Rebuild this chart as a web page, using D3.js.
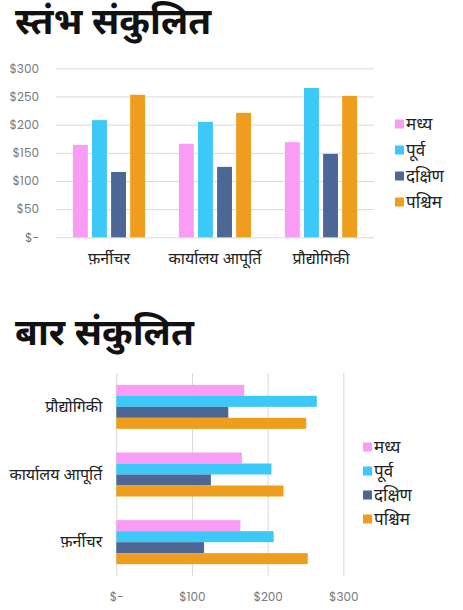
<!DOCTYPE html>
<html><head><meta charset="utf-8">
<script src="https://cdn.jsdelivr.net/npm/d3@7"></script>
<style>
body{margin:0;background:#fff;}
svg{display:block;}
</style></head>
<body>
<svg id="c" width="463" height="610"></svg>
<script>
const categories = ["फ़र्नीचर", "कार्यालय आपूर्ति", "प्रौद्योगिकी"];
const seriesNames = ["मध्य", "पूर्व", "दक्षिण", "पश्चिम"];
const center = [164, 166, 169];
const east = [208, 205, 265];
const south = [116, 125, 148];
const west = [253, 221, 251];
const colTicks = [0, 50, 100, 150, 200, 250, 300];
const barTicks = [0, 100, 200, 300];
const titles = ["स्तंभ संकुलित", "बार संकुलित"];
const colors = ["#f99cf3", "#3cc8f8", "#4c6794", "#ee9d1c"];

const values = [center, east, south, west];
const rows = categories.map((c, i) => ({cat: c, vals: values.map(v => v[i])}));
const fmt = d => d === 0 ? "$-" : "$" + d;
const deva = "'Noto Sans Devanagari','Noto Sans','Lohit Devanagari',sans-serif";
const tickFont = "Poppins, 'Open Sans', 'Noto Sans', sans-serif";

const svg = d3.select("#c");

// Titles
svg.append("text").attr("x", 15).attr("y", 34).text(titles[0])
  .attr("font-family", deva).attr("font-weight", 700).attr("font-size", 37).attr("fill", "#111");
svg.append("text").attr("x", 15).attr("y", 345).text(titles[1])
  .attr("font-family", deva).attr("font-weight", 700).attr("font-size", 37).attr("fill", "#111");

// ---------- Column chart ----------
{
  const left = 56, right = 374, top = 68.3, bottom = 237.3;
  const y = d3.scaleLinear().domain([0, 300]).range([bottom, top]);
  const x0 = d3.scaleBand().domain(categories).range([left, right]).paddingInner(0.32).paddingOuter(0.16);
  const x1 = d3.scaleBand().domain(seriesNames).range([0, x0.bandwidth()]).paddingInner(0.22);

  const g = svg.append("g");
  const yAxis = d3.axisLeft(y).tickValues(colTicks).tickFormat(fmt).tickSize(-(right - left)).tickPadding(17);
  const ag = g.append("g").attr("transform", `translate(${left},0)`).call(yAxis);
  ag.select(".domain").remove();
  ag.selectAll(".tick line").attr("stroke", "#d9d9d9").attr("stroke-width", 1);
  ag.selectAll(".tick text").attr("fill", "#7a7a7a").attr("font-size", 12).attr("font-family", tickFont);

  const grp = g.selectAll(".grp").data(rows).join("g")
    .attr("transform", d => `translate(${x0(d.cat)},0)`);
  grp.selectAll("rect").data(d => d.vals.map((v, i) => ({v, s: seriesNames[i], i}))).join("rect")
    .attr("x", d => x1(d.s)).attr("width", x1.bandwidth())
    .attr("y", d => y(d.v)).attr("height", d => y(0) - y(d.v))
    .attr("fill", d => colors[d.i]);

  const xAxis = d3.axisBottom(x0).tickSize(0).tickPadding(15);
  const xg = g.append("g").attr("transform", `translate(0,${bottom})`).call(xAxis);
  xg.select(".domain").remove();
  xg.selectAll(".tick text").attr("fill", "#222").attr("font-size", 16).attr("font-family", deva);

  const lg = g.append("g").attr("transform", "translate(395,124)");
  const li = lg.selectAll("g").data(seriesNames).join("g").attr("transform", (d, i) => `translate(0,${i * 26})`);
  li.append("rect").attr("x", 0).attr("y", -4.5).attr("width", 9).attr("height", 9).attr("fill", (d, i) => colors[i]);
  li.append("text").attr("x", 11).attr("dy", "0.35em").text(d => d)
    .attr("font-size", 17).attr("font-family", deva).attr("fill", "#222");
}

// ---------- Bar chart ----------
{
  const left = 116.3, right = 343.3, top = 373, bottom = 576;
  const x = d3.scaleLinear().domain([0, 300]).range([left, right]);
  const rev = categories.slice().reverse();
  const y0 = d3.scaleBand().domain(rev).range([top, bottom]).paddingInner(0.35).paddingOuter(0.175);
  const y1 = d3.scaleBand().domain(seriesNames).range([0, y0.bandwidth()]).padding(0);

  const g = svg.append("g");
  const xAxis = d3.axisBottom(x).tickValues(barTicks).tickFormat(fmt).tickSize(-(bottom - top)).tickPadding(16);
  const ag = g.append("g").attr("transform", `translate(0,${bottom})`).call(xAxis);
  ag.select(".domain").remove();
  ag.selectAll(".tick line").attr("stroke", "#d9d9d9").attr("stroke-width", 1);
  ag.selectAll(".tick text").attr("fill", "#7a7a7a").attr("font-size", 12).attr("font-family", tickFont);

  const grp = g.selectAll(".grp").data(rows).join("g")
    .attr("transform", d => `translate(0,${y0(d.cat)})`);
  grp.selectAll("rect").data(d => d.vals.map((v, i) => ({v, s: seriesNames[i], i}))).join("rect")
    .attr("y", d => y1(d.s)).attr("height", y1.bandwidth())
    .attr("x", x(0)).attr("width", d => x(d.v) - x(0))
    .attr("fill", d => colors[d.i]);

  const yAxis = d3.axisLeft(y0).tickSize(0).tickPadding(14);
  const yg = g.append("g").attr("transform", `translate(${left},0)`).call(yAxis);
  yg.select(".domain").remove();
  yg.selectAll(".tick text").attr("fill", "#222").attr("font-size", 16).attr("font-family", deva);

  const lg = g.append("g").attr("transform", "translate(363,447)");
  const li = lg.selectAll("g").data(seriesNames).join("g").attr("transform", (d, i) => `translate(0,${i * 24})`);
  li.append("rect").attr("x", 0).attr("y", -4.5).attr("width", 9).attr("height", 9).attr("fill", (d, i) => colors[i]);
  li.append("text").attr("x", 11).attr("dy", "0.35em").text(d => d)
    .attr("font-size", 17).attr("font-family", deva).attr("fill", "#222");
}
</script>
</body></html>
